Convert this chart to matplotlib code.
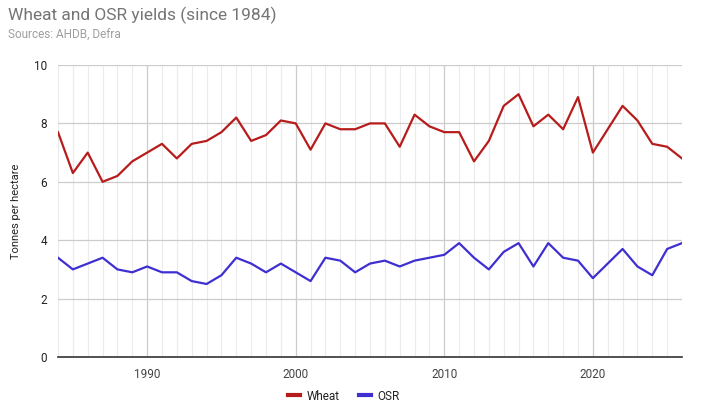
import matplotlib
matplotlib.use('Agg')
import matplotlib.pyplot as plt
from matplotlib.ticker import MultipleLocator

plt.rcParams['font.family'] = ['Roboto', 'DejaVu Sans']

years = list(range(1984, 2027))
wheat = [7.7, 6.3, 7.0, 6.0, 6.2, 6.7, 7.0, 7.3, 6.8, 7.3,
         7.4, 7.7, 8.2, 7.4, 7.6, 8.1, 8.0, 7.1, 8.0, 7.8,
         7.8, 8.0, 8.0, 7.2, 8.3, 7.9, 7.7, 7.7, 6.7, 7.4,
         8.6, 9.0, 7.9, 8.3, 7.8, 8.9, 7.0, 7.8, 8.6, 8.1,
         7.3, 7.2, 6.8]
osr = [3.4, 3.0, 3.2, 3.4, 3.0, 2.9, 3.1, 2.9, 2.9, 2.6,
       2.5, 2.8, 3.4, 3.2, 2.9, 3.2, 2.9, 2.6, 3.4, 3.3,
       2.9, 3.2, 3.3, 3.1, 3.3, 3.4, 3.5, 3.9, 3.4, 3.0,
       3.6, 3.9, 3.1, 3.9, 3.4, 3.3, 2.7, 3.2, 3.7, 3.1,
       2.8, 3.7, 3.9]

W, H = 701, 412
fig = plt.figure(figsize=(W / 100, H / 100), dpi=100)
ax = fig.add_axes([58 / W, 1 - 357 / H, (682 - 58) / W, (357 - 65) / H])

ax.plot(years, wheat, color='#b71c1c', lw=1.6, label='Wheat', zorder=3)
ax.plot(years, osr, color='#3f2fd1', lw=1.6, label='OSR', zorder=3)

ax.set_xlim(1984, 2026)
ax.set_ylim(0, 10)
ax.xaxis.set_major_locator(MultipleLocator(10))
ax.xaxis.set_minor_locator(MultipleLocator(1))
ax.yaxis.set_major_locator(MultipleLocator(2))

ax.grid(which='minor', axis='x', color='#ebebeb', lw=0.8)
ax.grid(which='major', axis='x', color='#cccccc', lw=0.9)
ax.grid(which='major', axis='y', color='#cccccc', lw=0.9)
ax.set_axisbelow(True)

for s in ['top', 'right', 'left']:
    ax.spines[s].set_visible(False)
ax.spines['bottom'].set_color('#333333')
ax.spines['bottom'].set_linewidth(1.2)

ax.tick_params(which='both', length=0)
ax.tick_params(axis='x', pad=8, labelsize=8.5, labelcolor='#444444')
ax.tick_params(axis='y', pad=8, labelsize=8.5, labelcolor='#222222')

ax.set_ylabel('Tonnes per hectare', fontsize=8, color='#222222', labelpad=9)

fig.text(8 / W, 1 - 15 / H, 'Wheat and OSR yields (since 1984)', fontsize=12.5,
         color='#757575', va='center', ha='left')
fig.text(8 / W, 1 - 35 / H, 'Sources: AHDB, Defra', fontsize=8.5,
         color='#9e9e9e', va='center', ha='left')

leg = fig.legend(loc='center', bbox_to_anchor=(344 / W, 1 - 396 / H), ncol=2,
                 frameon=False, fontsize=8.5, handlelength=1.0, handletextpad=0.6,
                 columnspacing=1.6)
for line in leg.get_lines():
    line.set_linewidth(3)
for t in leg.get_texts():
    t.set_color('#222222')

fig.savefig('out.png', dpi=100)
